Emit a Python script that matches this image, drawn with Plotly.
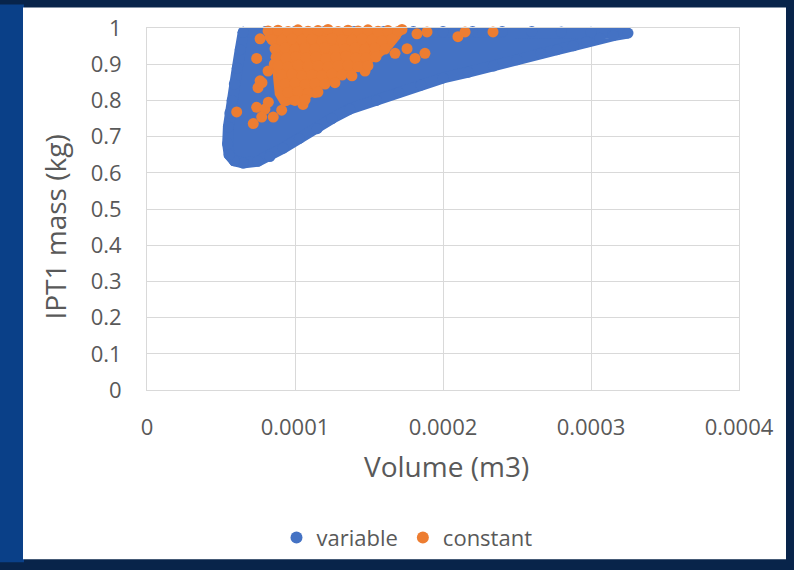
import plotly.graph_objects as go

# ---------------- data ----------------
x_tick_vals = [0, 0.0001, 0.0002, 0.0003, 0.0004]
x_tick_text = ["0", "0.0001", "0.0002", "0.0003", "0.0004"]
y_tick_vals = [0, 0.1, 0.2, 0.3, 0.4, 0.5, 0.6, 0.7, 0.8, 0.9, 1]
y_tick_text = ["0", "0.1", "0.2", "0.3", "0.4", "0.5", "0.6", "0.7", "0.8", "0.9", "1"]

# "variable" series: outline points of the dense point cloud (volume in 1e-5 m3, mass in kg)
variable_volume_e5 = [6.5, 8.0, 10.0, 12.0, 14.0, 16.0, 18.0, 20.0, 22.0, 24.0, 26.0, 28.0,
                      30.0, 31.5, 32.5,
                      31.5, 30.6, 29.7, 28.8, 27.7, 26.6, 25.0, 23.4, 21.7, 20.0, 18.5,
                      17.0, 15.5, 13.7, 12.5, 11.5, 10.3, 9.2, 8.3, 7.5, 6.5, 5.9, 5.55,
                      5.45, 5.5, 5.6, 5.75, 5.9, 6.1, 6.3, 6.5]
variable_mass = [0.988, 0.990, 0.990, 0.990, 0.990, 0.990, 0.990, 0.990, 0.990, 0.990, 0.990, 0.989,
                 0.988, 0.987, 0.986,
                 0.979, 0.972, 0.962, 0.951, 0.940, 0.930, 0.912, 0.895, 0.878, 0.862, 0.842,
                 0.822, 0.800, 0.776, 0.750, 0.722, 0.695, 0.668, 0.645, 0.632, 0.627, 0.633, 0.650,
                 0.680, 0.727, 0.765, 0.800, 0.845, 0.889, 0.940, 0.988]

# "constant" series: outline of its dense core (volume in 1e-5 m3, mass in kg)
core_volume_e5 = [8.7, 12.0, 16.9, 16.8, 16.3, 15.5, 14.7, 13.7, 12.4, 11.0, 9.4,
                  9.3, 9.0, 8.9, 8.7, 8.7]
core_mass = [0.990, 0.992, 0.990, 0.980, 0.955, 0.928, 0.905, 0.885, 0.862, 0.830, 0.800,
             0.800, 0.820, 0.860, 0.930, 0.990]

# "constant" series points (volume in 1e-5 m3, mass in kg)
constant_volume_e5 = [
    6.06, 7.18, 7.41, 7.97, 7.75, 8.53, 9.10, 8.20, 7.64, 7.50, 8.18, 7.41, 7.64, 8.31, 9.10,
    9.86, 10.54, 11.35, 16.76, 18.11, 18.78, 17.57, 18.24, 18.92, 17.23, 21.01, 21.49, 23.38,
    14.73, 7.77, 8.60, 9.00,
    8.18, 8.85, 9.53, 10.20, 10.88, 11.55, 12.23, 12.91, 13.58, 14.26, 14.93, 15.61, 16.28, 16.96,
    8.45, 9.12, 9.80, 10.47, 11.15, 11.82, 12.50, 13.18, 13.85, 14.53, 15.20, 15.88, 16.55,
    8.65, 9.32, 10.00, 10.68, 11.35, 12.03, 12.70, 13.38, 14.05, 14.73, 15.41, 16.08,
    8.72, 9.39, 10.07, 10.74, 11.42, 12.09, 12.77, 13.45, 14.12, 14.80, 15.47,
    8.85, 9.53, 10.20, 10.88, 11.55, 12.23, 12.91, 13.58, 14.26, 14.93,
    9.12, 9.80, 10.47, 11.15, 11.82, 12.50, 13.18, 13.85,
    9.32, 10.00, 10.68, 11.35, 12.03, 12.70,
    9.53, 10.20, 10.88, 11.55,
    10.00, 10.68,
]
constant_mass = [
    0.768, 0.736, 0.781, 0.776, 0.754, 0.754, 0.773, 0.795, 0.854, 0.835, 0.881, 0.916, 0.970, 0.976, 0.984,
    0.803, 0.789, 0.822, 0.930, 0.916, 0.930, 0.943, 0.984, 0.989, 0.996, 0.976, 0.989, 0.989,
    0.881, 0.849, 0.900, 0.940,
    0.992, 0.994, 0.990, 0.995, 0.991, 0.993, 0.996, 0.990, 0.994, 0.992, 0.995, 0.991, 0.993, 0.990,
    0.968, 0.966, 0.970, 0.967, 0.969, 0.965, 0.971, 0.968, 0.966, 0.970, 0.967, 0.964, 0.969,
    0.943, 0.945, 0.941, 0.944, 0.942, 0.946, 0.940, 0.943, 0.945, 0.941, 0.944, 0.942,
    0.919, 0.917, 0.921, 0.918, 0.920, 0.916, 0.919, 0.922, 0.918, 0.917, 0.920,
    0.895, 0.893, 0.897, 0.894, 0.896, 0.892, 0.895, 0.897, 0.893, 0.896,
    0.870, 0.872, 0.868, 0.871, 0.869, 0.873, 0.870, 0.868,
    0.846, 0.848, 0.844, 0.847, 0.845, 0.849,
    0.822, 0.824, 0.820, 0.823,
    0.800, 0.802,
]

variable_volume = [v * 1e-5 for v in variable_volume_e5]
core_volume = [v * 1e-5 for v in core_volume_e5]
constant_volume = [v * 1e-5 for v in constant_volume_e5]

BLUE = "#4472C4"
ORANGE = "#ED7D31"
TXT = "#595959"
GRID = "#D9D9D9"
FONT = "Open Sans"
MS = 11  # marker diameter in px

fig = go.Figure()

fig.add_trace(go.Scatter(
    x=variable_volume, y=variable_mass, mode="lines", fill="toself",
    fillcolor=BLUE, line=dict(color=BLUE, width=MS), showlegend=False,
    hoverinfo="skip", cliponaxis=False,
))
fig.add_trace(go.Scatter(
    x=variable_volume, y=variable_mass, mode="markers", name="variable",
    marker=dict(color=BLUE, size=MS, line=dict(width=0)), cliponaxis=False,
))
fig.add_trace(go.Scatter(
    x=core_volume, y=core_mass, mode="lines", fill="toself",
    fillcolor=ORANGE, line=dict(color=ORANGE, width=MS), showlegend=False,
    hoverinfo="skip", cliponaxis=False,
))
fig.add_trace(go.Scatter(
    x=constant_volume, y=constant_mass, mode="markers", name="constant",
    marker=dict(color=ORANGE, size=MS, line=dict(width=0)), cliponaxis=False,
))

W, H = 794, 570
L, R, T, B = 147, 739, 24, 394
pw, ph = R - L, B - T


def px(xp):
    return (xp - L) / pw


def py(yp):
    return (B - yp) / ph


shapes = [
    dict(type="rect", xref="paper", yref="paper", x0=px(0), x1=px(24), y0=py(H), y1=py(0),
         fillcolor="#0A4088", line=dict(width=0), layer="below"),
    dict(type="rect", xref="paper", yref="paper", x0=px(23), x1=px(786), y0=py(567), y1=py(3),
         fillcolor="white", line=dict(width=0), layer="below"),
]

annotations = [
    dict(text="Volume (m3)", xref="paper", yref="paper", x=px(446), y=py(472),
         showarrow=False, font=dict(family=FONT, size=28, color=TXT),
         xanchor="center", yanchor="middle"),
    dict(text="IPT1 mass (kg)", xref="paper", yref="paper", x=px(55), y=py(228),
         showarrow=False, textangle=-90, font=dict(family=FONT, size=28, color=TXT),
         xanchor="center", yanchor="middle"),
]

fig.update_layout(
    width=W, height=H,
    margin=dict(l=L, r=W - R, t=T, b=H - B, pad=0),
    paper_bgcolor="#08244A",
    plot_bgcolor="rgba(0,0,0,0)",
    font=dict(family=FONT, color=TXT, size=20),
    shapes=shapes,
    annotations=annotations,
    showlegend=True,
    legend=dict(orientation="h", x=px(407), y=py(545), xanchor="center", yanchor="middle",
                font=dict(family=FONT, size=22, color=TXT), bgcolor="rgba(0,0,0,0)",
                itemsizing="constant", itemwidth=30, traceorder="normal"),
)
fig.update_xaxes(range=[0, 0.0004], tickvals=x_tick_vals, ticktext=x_tick_text,
                 showgrid=True, gridcolor=GRID, gridwidth=1, zeroline=False,
                 showline=True, linecolor=GRID, mirror=True, ticks="",
                 ticklabelstandoff=18, tickfont=dict(family=FONT, size=22, color=TXT))
fig.update_yaxes(range=[0, 1], tickvals=y_tick_vals, ticktext=y_tick_text,
                 showgrid=True, gridcolor=GRID, gridwidth=1, zeroline=False,
                 showline=True, linecolor=GRID, mirror=True, ticks="",
                 ticklabelstandoff=20, tickfont=dict(family=FONT, size=22, color=TXT))

fig.write_html("out.html")
